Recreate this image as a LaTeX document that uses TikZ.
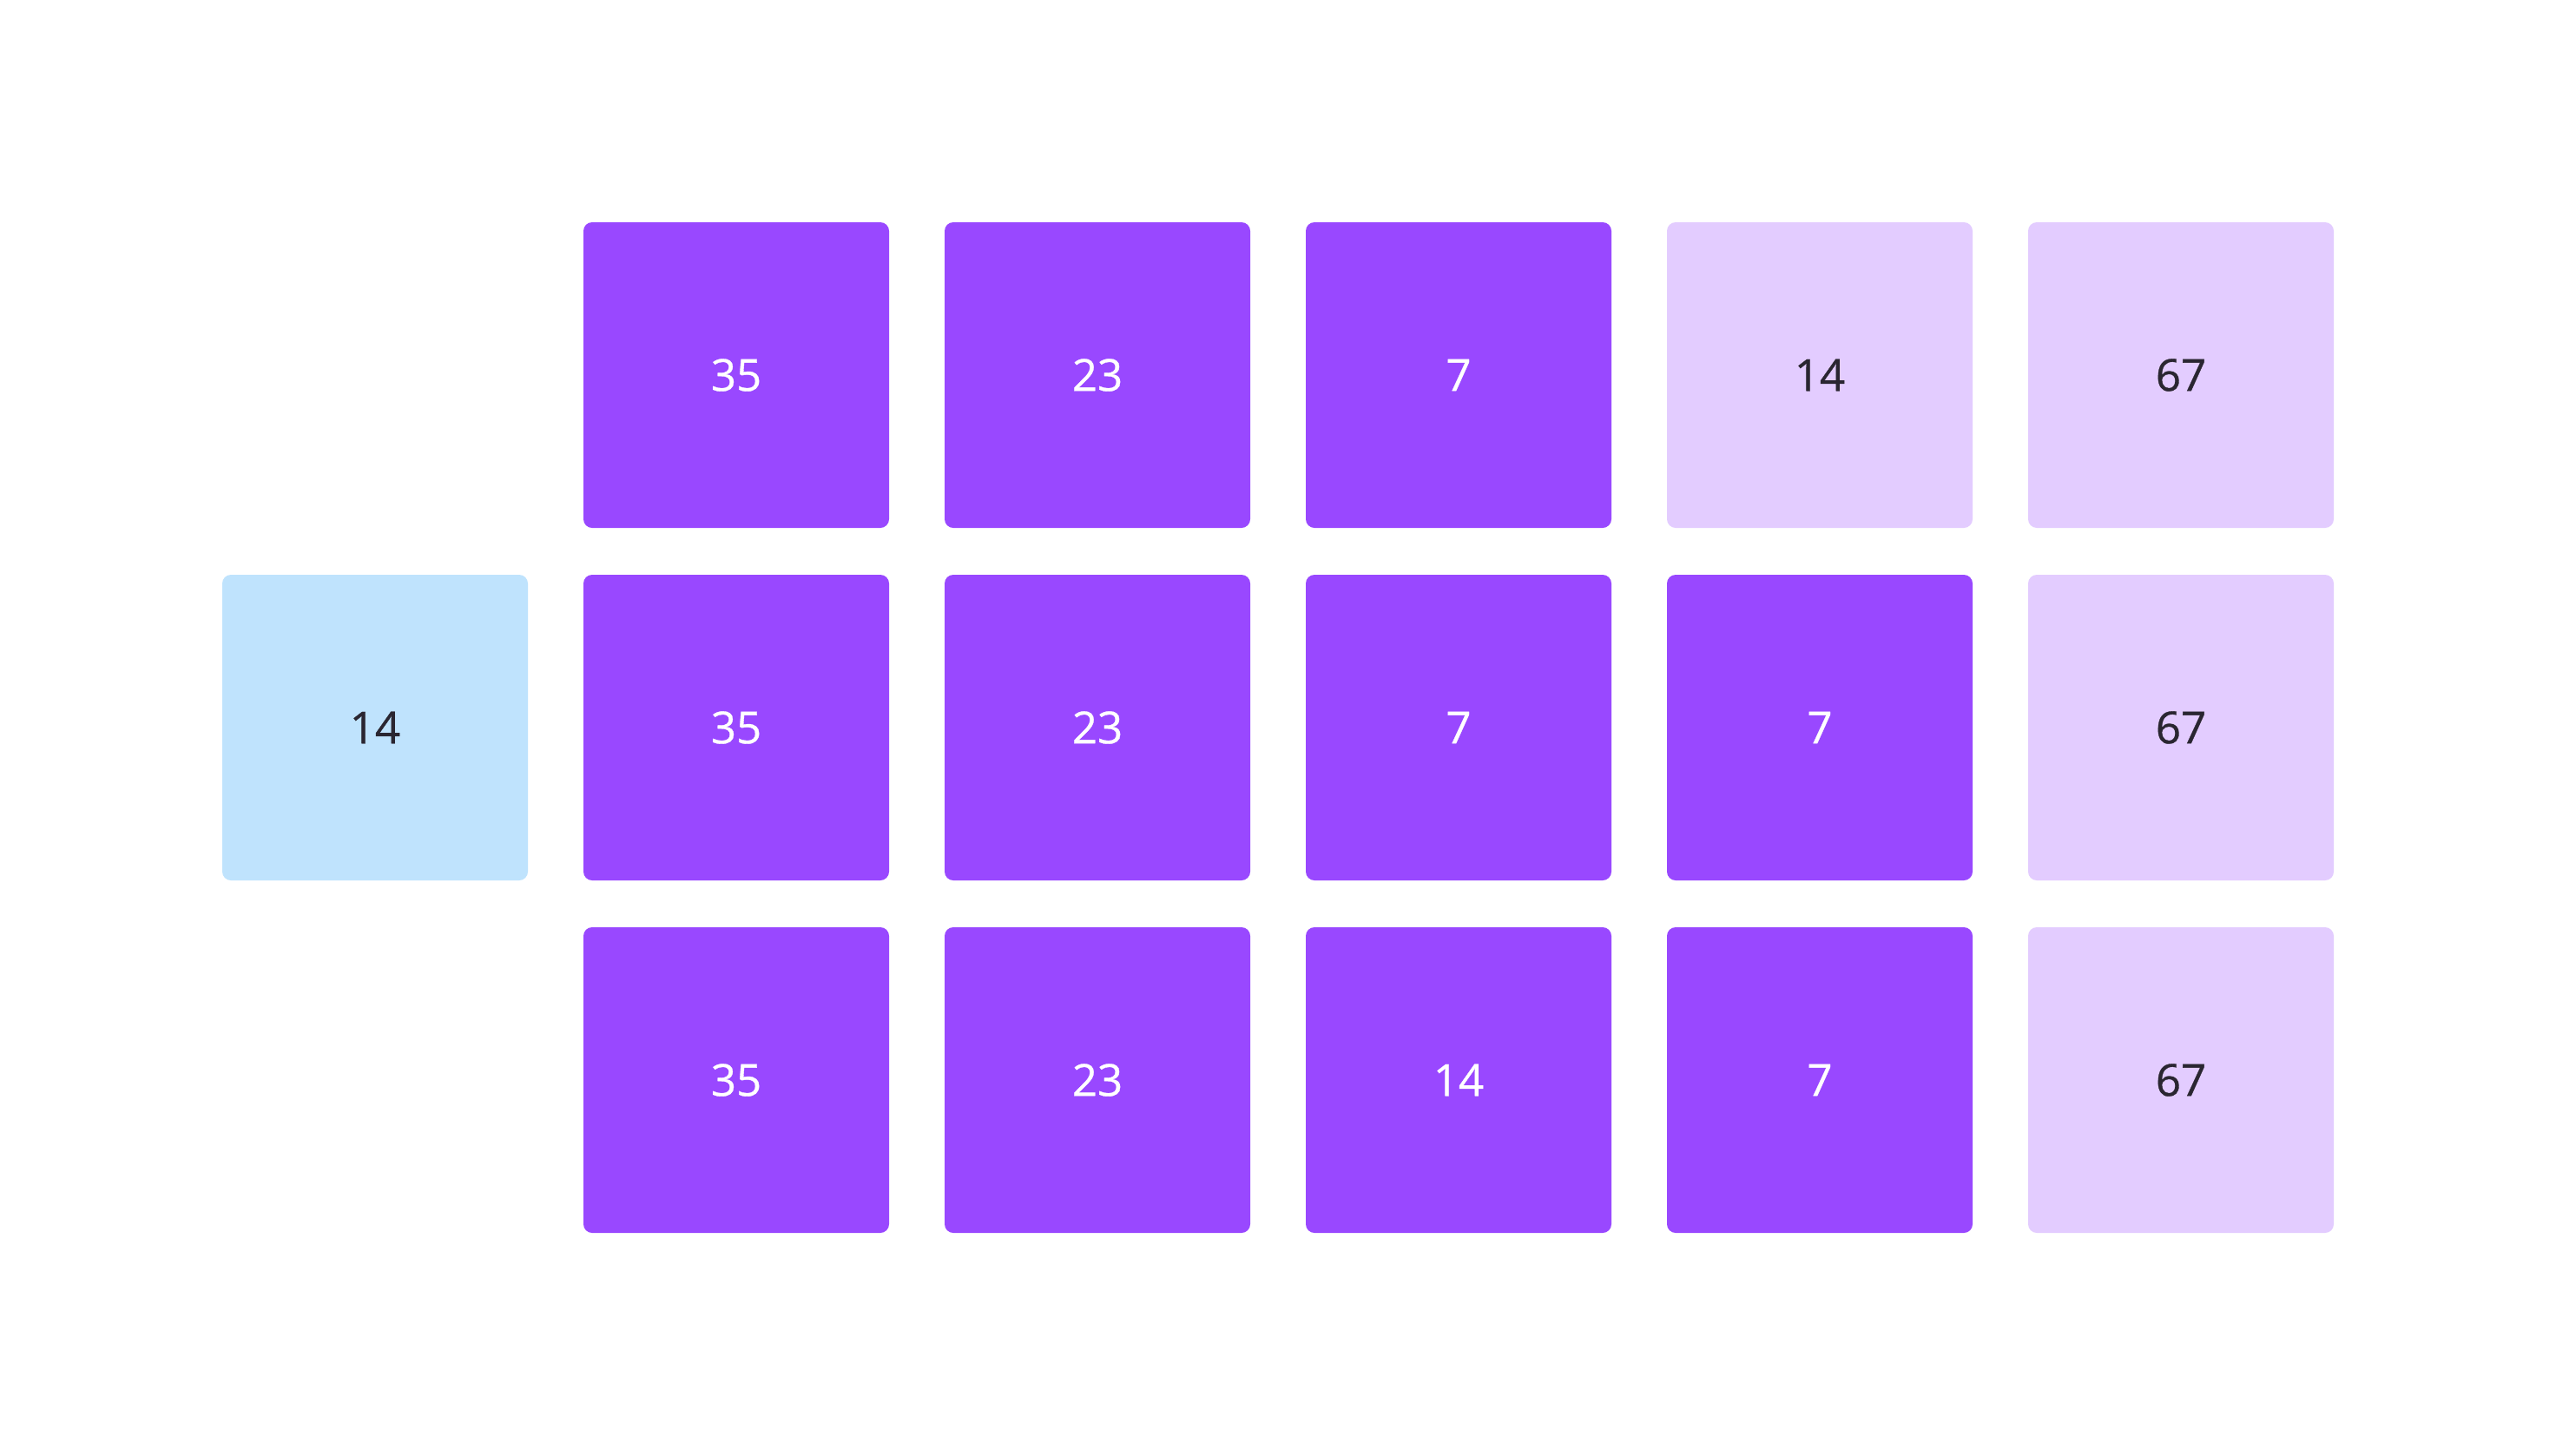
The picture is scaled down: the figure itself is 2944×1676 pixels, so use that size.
\documentclass[tikz,border=0pt]{standalone}
\usepackage{fontspec}
\setmainfont{Open Sans}
\newfontfamily\cellfont[FakeBold=0.6]{Open Sans}
\definecolor{dark}{HTML}{9948FF}
\definecolor{lite}{HTML}{E3CCFF}
\definecolor{sky}{HTML}{BFE3FD}
\definecolor{ink}{HTML}{2A2631}
\tikzset{
  cell/.style={minimum width=352pt, minimum height=352pt, inner sep=0pt,
    rounded corners=10pt, font=\cellfont\fontsize{51}{60}\selectfont},
  darkcell/.style={cell, fill=dark, text=white},
  litecell/.style={cell, fill=lite, text=ink},
  skycell/.style={cell, fill=sky, text=ink}
}
\begin{document}
\begin{tikzpicture}[x=1pt,y=-1pt]
\useasboundingbox[fill=white] (0,0) rectangle (2944,1676);
% row 1
\node[darkcell] (a1) at (848,432) {35};
\node[darkcell] (a2) at (1264,432) {23};
\node[darkcell] (a3) at (1680,432) {7};
\node[litecell] (a4) at (2096,432) {14};
\node[litecell] (a5) at (2512,432) {67};
% row 2
\node[skycell] (key) at (432,838) {14};
\node[darkcell] (b1) at (848,838) {35};
\node[darkcell] (b2) at (1264,838) {23};
\node[darkcell] (b3) at (1680,838) {7};
\node[darkcell] (b4) at (2096,838) {7};
\node[litecell] (b5) at (2512,838) {67};
% row 3
\node[darkcell] (c1) at (848,1244) {35};
\node[darkcell] (c2) at (1264,1244) {23};
\node[darkcell] (c3) at (1680,1244) {14};
\node[darkcell] (c4) at (2096,1244) {7};
\node[litecell] (c5) at (2512,1244) {67};
\end{tikzpicture}
\end{document}
